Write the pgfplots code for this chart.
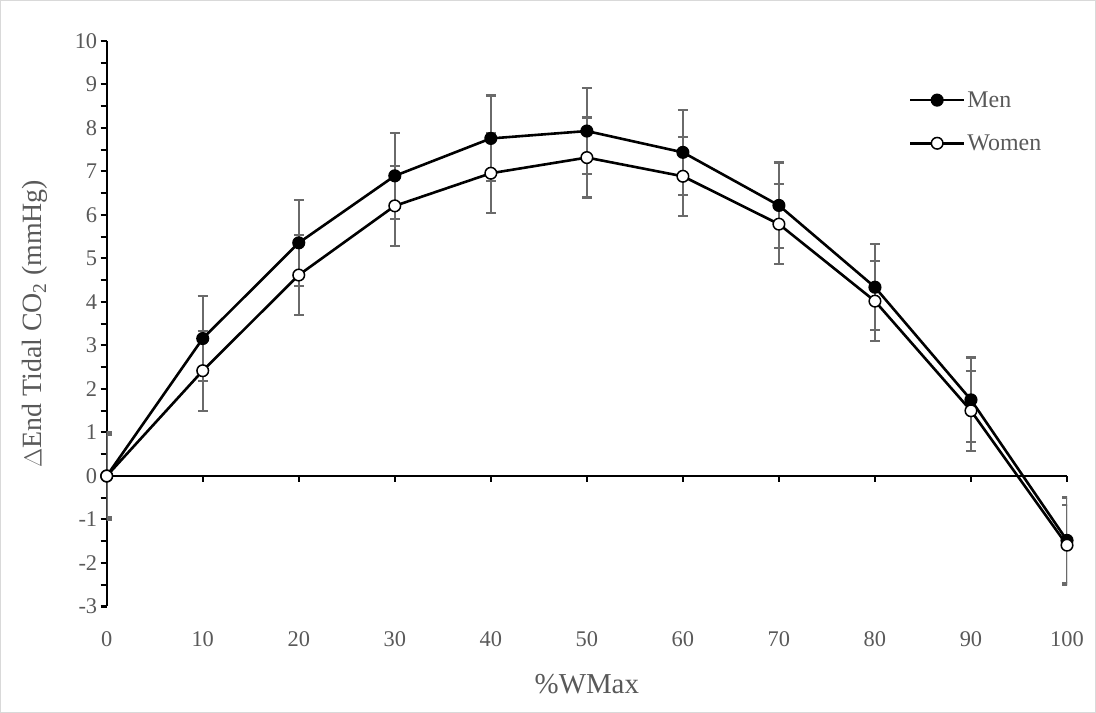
\documentclass[border=0pt]{standalone}
\usepackage{fontspec}
\setmainfont{Liberation Serif}
\usepackage{pgfplots}
\pgfplotsset{compat=1.18}
\definecolor{txtgray}{HTML}{595959}
\definecolor{errgray}{HTML}{6A6A6A}
\definecolor{framegray}{HTML}{D9D9D9}
\pgfplotstableread{
x y e
0 0 1.0
10 3.16 0.985
20 5.36 0.985
30 6.90 0.985
40 7.76 0.985
50 7.93 0.985
60 7.44 0.975
70 6.22 0.985
80 4.34 0.985
90 1.75 0.975
100 -1.48 0.985
}\men
\pgfplotstableread{
x y e
0 0 0.95
10 2.42 0.92
20 4.62 0.92
30 6.21 0.92
40 6.96 0.92
50 7.32 0.92
60 6.89 0.91
70 5.79 0.92
80 4.02 0.92
90 1.50 0.92
100 -1.59 0.92
}\women
\begin{document}
\begin{tikzpicture}
\useasboundingbox (0,0) rectangle (1096bp,713bp);
\draw[framegray, line width=1bp] (0.5bp,0.5bp) rectangle (1095.5bp,712.5bp);
\begin{axis}[
  at={(106.7bp,106.5bp)}, anchor=south west,
  scale only axis, width=960.3bp, height=565.5bp,
  xmin=0, xmax=100, ymin=-3, ymax=10,
  axis x line=middle, axis y line=left,
  axis line style={-, black, line width=2.2bp},
  hide obscured x ticks=false, hide obscured y ticks=false,
  xtick={0,10,...,100}, ytick={-3,-2,...,10},
  minor y tick num=1,
  tick align=outside,
  major tick length=6bp, minor tick length=6bp,
  tick style={black, line width=2bp},
  /pgf/number format/assume math mode=true,
  ticklabel style={font=\fontsize{22.5}{26}\selectfont, text=txtgray},
  xticklabel style={yshift=-146bp},
  xlabel={\%WMax},
  ylabel={$\Delta$End Tidal CO\textsubscript{2} (mmHg)},
  every axis x label/.style={at={([yshift=-77.5bp]axis description cs:0.5,0)}, anchor=center, font=\fontsize{29}{32}\selectfont, text=txtgray},
  every axis y label/.style={at={([xshift=-71.7bp]axis description cs:0,0.5)}, rotate=90, anchor=center, font=\fontsize{28}{32}\selectfont, text=txtgray},
  legend style={at={(axis description cs:0.832,0.918)}, anchor=north west, draw=none, fill=none, font=\fontsize{24}{28}\selectfont, text=txtgray, row sep=22bp},
  legend cell align=left,
  legend image code/.code={\draw[mark repeat=2,mark phase=2] plot coordinates {(0bp,0bp) (27bp,0bp) (54bp,0bp)};},
]
\addplot[black, line width=2.6bp, mark=*, mark size=5.8bp, mark options={fill=black, line width=1.5bp},
  error bars/.cd, y dir=both, y explicit,
  error bar style={errgray, line width=2.2bp},
  error mark options={rotate=90, errgray, line width=2.2bp, mark size=5bp}]
  table[x=x, y=y, y error=e] {\men};
\addlegendentry{Men}
\addplot[black, line width=2.6bp, mark=*, mark size=5.8bp, mark options={fill=white, line width=1.5bp},
  error bars/.cd, y dir=both, y explicit,
  error bar style={errgray, line width=2.2bp},
  error mark options={rotate=90, errgray, line width=2.2bp, mark size=5bp}]
  table[x=x, y=y, y error=e] {\women};
\addlegendentry{Women}
\end{axis}
\end{tikzpicture}
\end{document}
